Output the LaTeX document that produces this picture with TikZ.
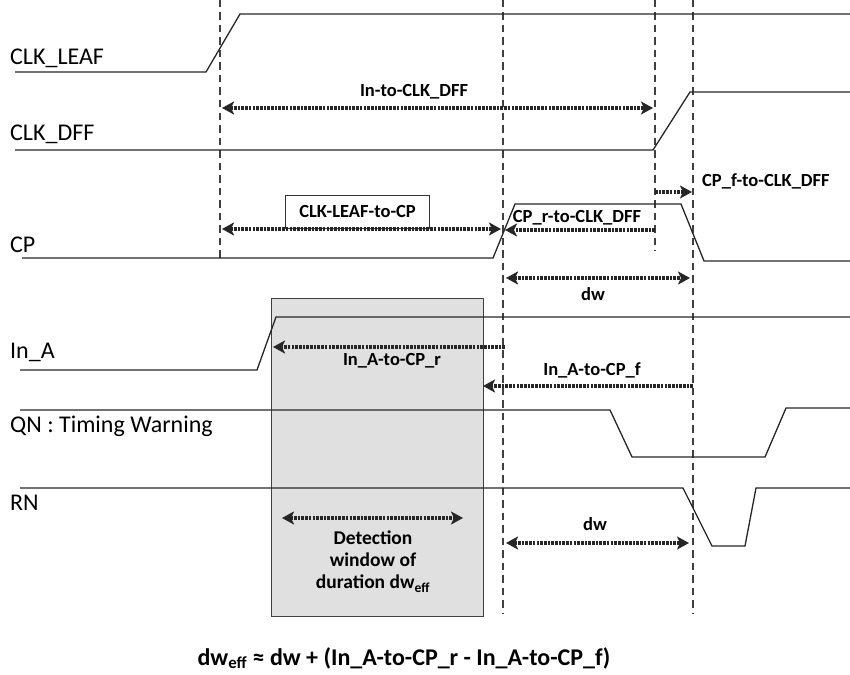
\documentclass[tikz,border=0pt]{standalone}
\usepackage{fontspec}
\setmainfont{Carlito}
\usetikzlibrary{arrows.meta}
\tikzset{
  sig/.style={line width=1.3pt, black!85, line join=miter},
  vdash/.style={line width=1.4pt, black!75, dash pattern=on 7.5pt off 5pt},
  ahead/.tip={Stealth[length=12pt,width=13pt,inset=3pt]},
  darr/.style={line width=4pt, black!85, dash pattern=on 2.6pt off 1.1pt,
    -ahead},
  ddarr/.style={line width=4pt, black!85, dash pattern=on 2.6pt off 1.1pt,
    ahead-ahead},
  siglabel/.style={anchor=base west, inner sep=0pt, font=\fontsize{24}{28}\selectfont},
  blabel/.style={anchor=base, inner sep=0pt, font=\fontsize{18.5}{22}\selectfont\bfseries},
}
\begin{document}
\begin{tikzpicture}[x=1pt,y=-1pt]
\useasboundingbox (0,0) rectangle (850,674);
% detection window box
\node[draw=black!75, line width=1.3pt, fill=black!12, minimum width=212pt, minimum height=318pt, anchor=north west, inner sep=0pt] (win) at (271,298) {};
% dashed verticals
\draw[vdash] (220,0) -- (220,258);
\draw[vdash] (503,0) -- (503,613);
\draw[vdash] (655,0) -- (655,251);
\draw[vdash] (693,0) -- (693,613);
% signals
\draw[sig] (15,72) -- (206,72) -- (240,14) -- (850,14);
\draw[sig] (15,150) -- (653,150) -- (690,92) -- (850,92);
\draw[sig] (22,258) -- (493,258) -- (515,204) -- (681,204) -- (704,261) -- (850,261);
\draw[sig] (20,370) -- (257,370) -- (276,317) -- (850,317);
\draw[sig] (20,410) -- (610,410) -- (632,457) -- (765,457) -- (786,408) -- (850,408);
\draw[sig] (20,488) -- (683,488) -- (712,546) -- (745,546) -- (756,488) -- (850,488);
% signal labels
\node[siglabel] (lclkleaf) at (10,65) {CLK\_LEAF};
\node[siglabel] (lclkdff) at (10,140) {CLK\_DFF};
\node[siglabel] (lcp) at (10,252) {CP};
\node[siglabel] (lina) at (10,358) {In\_A};
\node[siglabel] (lqn) at (10,432) {QN : Timing Warning};
\node[siglabel] (lrn) at (10,510) {RN};
% arrow end points
\coordinate (a1l) at (222,108); \coordinate (a1r) at (653,108);
\coordinate (a2l) at (222,229); \coordinate (a2r) at (501,229);
\coordinate (a3s) at (655,230); \coordinate (a3e) at (505,230);
\coordinate (a4s) at (655,192); \coordinate (a4e) at (692,192);
\coordinate (a5l) at (506,278); \coordinate (a5r) at (690,278);
\coordinate (a6s) at (505,347); \coordinate (a6e) at (273,347);
\coordinate (a7s) at (693,386); \coordinate (a7e) at (483,386);
\coordinate (a8l) at (282,518); \coordinate (a8r) at (463,518);
\coordinate (a9l) at (506,543); \coordinate (a9r) at (689,543);
% CLK-LEAF-to-CP box
\node[draw=black!80, line width=1.1pt, fill=white, minimum width=144pt, minimum height=33pt, inner sep=0pt, anchor=south west, font=\fontsize{18.5}{22}\selectfont\bfseries] (bx) at (285,229) {CLK-LEAF-to-CP};
% arrows
\draw[ddarr] (a1l) -- (a1r);
\draw[ddarr] (a2l) -- (a2r);
\draw[darr] (a3s) -- (a3e);
\draw[darr] (a4s) -- (a4e);
\draw[ddarr] (a5l) -- (a5r);
\draw[darr] (a6s) -- (a6e);
\draw[darr] (a7s) -- (a7e);
\draw[ddarr] (a8l) -- (a8r);
\draw[ddarr] (a9l) -- (a9r);
% arrow labels
\node[blabel] (t1) at (414,97) {In-to-CLK\_DFF};
\node[blabel] (t3) at (577,222) {CP\_r-to-CLK\_DFF};
\node[blabel, anchor=base west] (t4) at (702,186) {CP\_f-to-CLK\_DFF};
\node[blabel] (t5) at (593,300) {dw};
\node[blabel] (t6) at (392,365) {In\_A-to-CP\_r};
\node[blabel] (t7) at (592,375) {In\_A-to-CP\_f};
\node[blabel] (t9) at (595,530) {dw};
\node[blabel, align=center, anchor=north, font=\fontsize{19.5}{22}\selectfont\bfseries] (t8) at (373,531) {Detection\\window of\\duration dw\textsubscript{eff}};
\node[blabel, font=\fontsize{24}{28}\selectfont\bfseries] (fm) at (404,665) {dw\textsubscript{eff} ≈ dw + (In\_A-to-CP\_r - In\_A-to-CP\_f)};
\end{tikzpicture}
\end{document}
